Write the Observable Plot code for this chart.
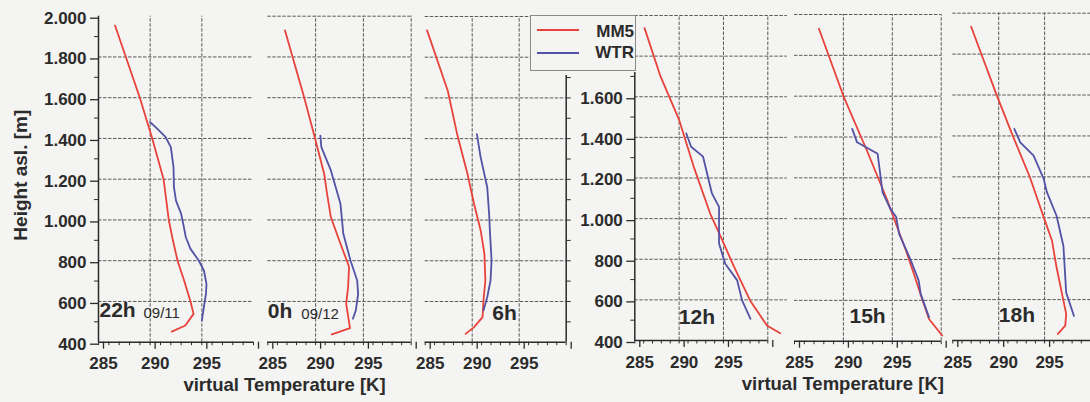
<!DOCTYPE html>
<html>
<head>
<meta charset="utf-8">
<script src="https://cdn.jsdelivr.net/npm/d3@7"></script>
<script src="https://cdn.jsdelivr.net/npm/@observablehq/plot@0.6"></script>
<style>
html, body { margin: 0; padding: 0; background: #f4f4f2; }
#chart { position: relative; width: 1090px; height: 402px; overflow: hidden; background: #f4f4f2;
  font-family: "Liberation Sans", Arial, sans-serif; color: #2b2b2b; }
#chart svg { position: absolute; left: 0; top: 0; }
.legend { position: absolute; left: 530px; top: 15px; width: 106px; height: 56px; border: 1px solid #8a8a8a;
  background: #f4f4f2; box-sizing: border-box; }
.legend .sw { position: absolute; left: 6px; width: 42px; height: 2px; }
.legend .lb { position: absolute; right: 1px; font-size: 17px; font-weight: bold; line-height: 17px; color: #2b2b2b; }
</style>
</head>
<body>
<div id="chart"></div>
<script>
// ---- data ----
const panelNames = ["22h", "0h", "6h", "12h", "15h", "18h"];
const panelDates = ["09/11", "09/12", "", "", "", ""];
const seriesNames = ["MM5", "WTR"];
const tempTicks = [285, 290, 295];
const heightTicks = [400, 600, 800, 1000, 1200, 1400, 1600, 1800, 2000];

// [virtual temperature K, height m]
const mm5_22h = [[286.6,1954],[289.0,1600],[290.2,1400],[291.3,1200],[291.8,1000],[292.2,900],[292.65,800],[293.3,700],[293.9,600],[294.2,539],[293.4,482],[292.1,452]];
const wtr_22h = [[290.0,1480],[290.7,1447],[291.5,1406],[292.0,1357],[292.26,1259],[292.3,1161],[292.5,1095],[293.0,1030],[293.2,981],[293.45,915],[293.9,858],[294.7,801],[295.2,752],[295.45,686],[295.4,637],[295.2,572],[295.0,506]];
const mm5_0h = [[286.8,1930],[288.8,1602],[290.0,1390],[290.9,1226],[291.2,1128],[291.6,1013],[292.6,883],[293.4,784],[293.5,768],[293.4,670],[293.2,588],[293.6,469],[291.7,438]];
const wtr_0h = [[290.5,1414],[290.6,1357],[291.6,1243],[292.6,1079],[292.9,932],[293.65,801],[294.35,703],[294.45,637],[294.2,555],[293.9,515]];
const mm5_6h = [[285.2,1932],[287.4,1635],[288.4,1422],[289.5,1226],[290.2,1079],[290.9,949],[291.3,834],[291.4,703],[291.2,604],[291.1,523],[290.2,474],[289.3,441]];
const wtr_6h = [[290.5,1422],[290.9,1308],[291.6,1161],[291.8,1030],[291.9,932],[292.06,801],[291.95,703],[291.6,621],[291.2,556]];
const mm5_12h = [[286.1,1938],[287.9,1700],[290.0,1486],[291.65,1255],[293.5,1025],[294.7,910],[296.2,762],[298.0,597],[299.9,474],[301.4,436]];
const wtr_12h = [[290.8,1420],[291.35,1354],[292.7,1305],[293.7,1124],[294.5,1058],[294.5,992],[294.5,877],[295.2,778],[296.55,696],[297.1,597],[298.05,507]];
const mm5_15h = [[287.5,1930],[290.05,1595],[292.4,1334],[294.5,1089],[295.5,958],[296.4,844],[297.2,730],[298.1,599],[298.75,509],[300.1,428]];
const wtr_15h = [[290.9,1440],[291.4,1374],[293.5,1318],[294.0,1130],[294.8,1048],[295.4,1008],[295.7,926],[296.9,795],[297.7,697],[297.9,632],[298.75,518]];
const mm5_18h = [[287.0,1934],[289.8,1597],[291.45,1410],[293.4,1198],[294.9,1003],[295.8,889],[296.3,758],[296.9,628],[297.35,530],[297.25,473],[296.45,432]];
const wtr_18h = [[291.7,1434],[292.35,1369],[293.8,1304],[294.9,1190],[295.25,1125],[296.3,1010],[297.05,862],[297.35,634],[298.2,520]];

const mm5Series = [mm5_22h, mm5_0h, mm5_6h, mm5_12h, mm5_15h, mm5_18h];
const wtrSeries = [wtr_22h, wtr_0h, wtr_6h, wtr_12h, wtr_15h, wtr_18h];

// ---- layout / style ----
const W = 1090, H = 402;
const colors = {MM5: "#e8433b", WTR: "#5252a6"};
const ink = "#2b2b2b";
const gridColor = "#5a5a5a";
const layout = [
  {left: 98,    right: 253,    top: 15.7, bottom: 341.7, gridTop: 1800, gridEnd: 300, vgrid: [290, 295],      yAxis: [400, 2000, 2000], lx: 1,  ly: -31.5, dlx: 45, dly: -29.5},
  {left: 267.3, right: 410.7,  top: 15.7, bottom: 341.7, gridTop: 2000, gridEnd: 300, vgrid: [290, 295, 300], lx: 0,  ly: -30.5, dlx: 33.5, dly: -28.5},
  {left: 424.7, right: 565.7,  top: 16,   bottom: 341.7, gridTop: 2000, gridEnd: 300, vgrid: [290, 295],      rightLine: 1710, lx: 67, ly: -29},
  {left: 634.3, right: 767.3,  top: 15,   bottom: 340,   gridTop: 2000, gridEnd: 302.2, vgrid: [290, 295, 300], yAxis: [400, 1600, 1720], lx: 44, ly: -23.5},
  {left: 794,   right: 940.7,  top: 14,   bottom: 340.7, gridTop: 2000, gridEnd: 300, vgrid: [290, 295, 300], lx: 55, ly: -25},
  {left: 952.3, right: 1090,   top: 12.7, bottom: 340,   gridTop: 2000, gridEnd: 300, vgrid: [290, 295],      lx: 46, ly: -25}
];

const fmtH = d => d >= 1000 ? `${Math.floor(d / 1000)}.${String(d % 1000).padStart(3, "0")}` : `${d}`;

const chart = document.getElementById("chart");

layout.forEach((L, i) => {
  const marks = [];
  const gridH = heightTicks.filter(h => h > 400 && h <= L.gridTop);
  marks.push(Plot.ruleY(gridH, {x1: 285, x2: L.gridEnd, stroke: gridColor, strokeWidth: 1, strokeDasharray: "3.5,1.5"}));
  marks.push(Plot.ruleX(L.vgrid, {y1: 400, y2: 2000, stroke: gridColor, strokeWidth: 1, strokeDasharray: "3.5,1.5"}));

  // bottom axis
  marks.push(Plot.ruleY([400], {x1: 285, x2: 300, stroke: ink, strokeWidth: 1.5}));
  marks.push(Plot.axisX(d3.range(285, 301, 1), {anchor: "bottom", tickSize: 3.5, tickFormat: () => "", stroke: ink, label: null}));
  marks.push(Plot.axisX([285, 290, 295, 300], {anchor: "bottom", tickSize: 7, tickPadding: 8, stroke: ink, strokeWidth: 1.3,
    tickFormat: d => tempTicks.includes(d) ? String(d) : "", fontSize: 17, fontWeight: "bold", dx: 5, label: null}));

  const hasY = !!(L.yAxis || L.rightLine);
  // left y axis
  if (L.yAxis) {
    const [lo, hi, lineTop] = L.yAxis;
    marks.push(Plot.ruleX([285], {y1: 400, y2: lineTop, stroke: ink, strokeWidth: 1.5}));
    marks.push(Plot.axisY(heightTicks.filter(h => h >= lo && h <= hi), {anchor: "left", tickSize: 8, tickPadding: 4, stroke: ink,
      strokeWidth: 1.3, tickFormat: fmtH, fontSize: 17, fontWeight: "bold", dy: 2, label: null}));
    marks.push(Plot.axisY(d3.range(500, lineTop, 200), {anchor: "left", tickSize: 4, stroke: ink, tickFormat: () => "", label: null}));
  }
  // right edge line with ticks (panel 6h)
  if (L.rightLine) {
    marks.push(Plot.ruleX([300], {y1: 400, y2: L.rightLine, stroke: ink, strokeWidth: 1.5}));
    marks.push(Plot.axisY(d3.range(500, L.rightLine, 100), {anchor: "right", tickSize: 4, stroke: ink, tickFormat: () => "", label: null}));
  }

  // profiles
  marks.push(Plot.line(mm5Series[i], {x: d => d[0], y: d => d[1], stroke: colors.MM5, strokeWidth: 1.8}));
  marks.push(Plot.line(wtrSeries[i], {x: d => d[0], y: d => d[1], stroke: colors.WTR, strokeWidth: 1.8}));

  // panel labels
  marks.push(Plot.text([panelNames[i]], {text: d => d, frameAnchor: "bottom-left", textAnchor: "start", lineAnchor: "middle",
    dx: L.lx, dy: L.ly, fontSize: 21, fontWeight: "bold", fill: ink}));
  if (panelDates[i]) {
    marks.push(Plot.text([panelDates[i]], {text: d => d, frameAnchor: "bottom-left", textAnchor: "start", lineAnchor: "middle",
      dx: L.dlx, dy: L.dly, fontSize: 15, fontWeight: "normal", fill: ink}));
  }

  // titles
  if (i === 0) {
    marks.push(Plot.text(["Height asl. [m]"], {text: d => d, frameAnchor: "left", textAnchor: "middle", lineAnchor: "middle",
      rotate: -90, dx: -78, dy: -4, fontSize: 19, fontWeight: "bold", fill: ink}));
  }
  if (i === 1) {
    marks.push(Plot.text(["virtual Temperature [K]"], {text: d => d, frameAnchor: "bottom", textAnchor: "middle", lineAnchor: "middle",
      dx: -55, dy: 42.5, fontSize: 18.5, fontWeight: "bold", fill: ink}));
  }
  if (i === 4) {
    marks.push(Plot.text(["virtual Temperature [K]"], {text: d => d, frameAnchor: "bottom", textAnchor: "middle", lineAnchor: "middle",
      dx: -25, dy: 42.5, fontSize: 18.5, fontWeight: "bold", fill: ink}));
  }

  const svg = Plot.plot({
    width: W, height: H,
    marginLeft: L.left, marginRight: W - L.right, marginTop: L.top, marginBottom: H - L.bottom,
    x: {domain: [285, 300]},
    y: hasY ? {domain: [400, 2000]} : {domain: [400, 2000], axis: null},
    style: {background: "transparent", overflow: "visible", fontFamily: "'Liberation Sans', Arial, sans-serif", color: ink},
    marks
  });
  chart.appendChild(svg);
});

// legend
const legend = document.createElement("div");
legend.className = "legend";
[["MM5", 13, 6.5], ["WTR", 36, 27.5]].forEach(([name, swTop, lbTop]) => {
  const sw = document.createElement("div");
  sw.className = "sw"; sw.style.top = swTop + "px"; sw.style.background = colors[name];
  const lb = document.createElement("div");
  lb.className = "lb"; lb.style.top = lbTop + "px"; lb.textContent = name;
  legend.appendChild(sw); legend.appendChild(lb);
});
chart.appendChild(legend);
</script>
</body>
</html>
